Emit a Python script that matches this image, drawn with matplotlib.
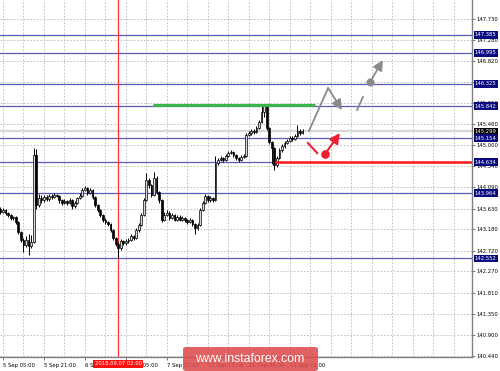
import numpy as np
import matplotlib
matplotlib.use("Agg")
import matplotlib.pyplot as plt
from matplotlib.patches import Rectangle, FancyBboxPatch
from matplotlib.transforms import blended_transform_factory

# ---------------- data ----------------
first_open = 143.620
closes = [143.555, 143.599, 143.534, 143.490, 143.426, 143.440, 143.339, 143.123, 142.950, 142.841,
          142.950, 142.820, 142.906, 144.788, 143.707, 143.858, 143.815, 143.880, 143.837, 143.902,
          143.880, 143.923, 143.902, 143.815, 143.750, 143.793, 143.750, 143.815, 143.685, 143.750,
          143.858, 143.902, 144.032, 144.075, 143.967, 144.032, 143.880, 143.707, 143.599, 143.490,
          143.382, 143.339, 143.296, 143.166, 142.993, 142.863, 142.776, 142.928, 142.885, 142.928,
          142.950, 143.036, 142.993, 143.166, 143.274, 143.490, 143.815, 144.248, 144.140, 143.923,
          144.291, 143.988, 143.815, 143.382, 143.490, 143.534, 143.426, 143.490, 143.382, 143.447,
          143.382, 143.426, 143.382, 143.339, 143.382, 143.296, 143.209, 143.274, 143.599, 143.750,
          143.902, 143.815, 143.858, 143.815, 144.615, 144.680, 144.723, 144.680, 144.767, 144.831,
          144.853, 144.788, 144.723, 144.680, 144.745, 144.767, 145.221, 145.264, 145.307, 145.286,
          145.372, 145.502, 145.718, 145.848, 145.372, 145.069, 144.940, 144.572, 144.723, 144.896,
          144.983, 145.048, 145.091, 145.156, 145.134, 145.199, 145.307, 145.264, 145.307]
highs = [143.66, 143.64, 143.62, 143.56, 143.51, 143.47, 143.46, 143.36, 143.15, 143.00,
         143.04, 143.08, 143.05, 144.94, 144.92, 143.95, 143.92, 143.93, 143.92, 143.94,
         143.95, 143.96, 143.95, 143.93, 143.84, 143.83, 143.82, 143.85, 143.83, 143.79,
         143.89, 143.96, 144.08, 144.12, 144.10, 144.07, 144.05, 143.90, 143.73, 143.62,
         143.52, 143.42, 143.37, 143.32, 143.19, 143.02, 142.90, 142.97, 142.96, 142.97,
         143.00, 143.08, 143.06, 143.20, 143.31, 143.53, 143.86, 144.40, 144.30, 144.17,
         144.42, 144.33, 144.02, 143.84, 143.56, 143.60, 143.57, 143.54, 143.52, 143.49,
         143.48, 143.46, 143.45, 143.41, 143.42, 143.40, 143.32, 143.31, 143.64, 143.79,
         143.95, 143.93, 143.90, 143.88, 144.76, 144.73, 144.77, 144.75, 144.82, 144.87,
         144.90, 144.87, 144.81, 144.75, 144.78, 144.80, 145.26, 145.31, 145.35, 145.34,
         145.42, 145.55, 145.85, 145.89, 145.87, 145.40, 145.10, 144.97, 144.77, 144.94,
         145.03, 145.09, 145.14, 145.20, 145.19, 145.24, 145.44, 145.36, 145.34]
lows = [143.52, 143.53, 143.50, 143.45, 143.39, 143.38, 143.30, 143.09, 142.90, 142.70,
        142.80, 142.62, 142.78, 142.88, 143.62, 143.66, 143.76, 143.78, 143.80, 143.80,
        143.84, 143.85, 143.87, 143.76, 143.71, 143.72, 143.70, 143.72, 143.63, 143.64,
        143.73, 143.83, 143.88, 144.00, 143.93, 143.94, 143.84, 143.67, 143.56, 143.45,
        143.34, 143.30, 143.25, 143.12, 142.95, 142.82, 142.56, 142.74, 142.84, 142.85,
        142.89, 142.92, 142.95, 142.97, 143.13, 143.25, 143.46, 143.79, 144.08, 143.88,
        143.90, 143.95, 143.76, 143.34, 143.35, 143.46, 143.39, 143.40, 143.35, 143.36,
        143.35, 143.35, 143.34, 143.30, 143.31, 143.26, 143.08, 143.17, 143.25, 143.57,
        143.72, 143.77, 143.78, 143.77, 143.79, 144.58, 144.65, 144.64, 144.65, 144.74,
        144.80, 144.75, 144.69, 144.64, 144.65, 144.72, 144.74, 145.19, 145.23, 145.25,
        145.26, 145.35, 145.48, 145.60, 145.33, 145.02, 144.60, 144.46, 144.53, 144.70,
        144.86, 144.95, 145.02, 145.06, 145.10, 145.11, 145.17, 145.22, 145.24]
first_bar = -1

ytick_values = [147.730, 147.280, 146.820, 146.370, 145.910, 145.460, 145.000, 144.540, 144.090,
                143.630, 143.180, 142.720, 142.270, 141.810, 141.350, 140.900, 140.440]
xtick_bars = [0, 16, 32, 48, 64, 80, 96, 112]
xtick_labels = ["5 Sep 05:00", "5 Sep 21:00", "6 Sep 13:00", "7 Sep 05:00", "7 Sep 21:00",
                "10 Sep 13:00", "11 Sep 05:00", "11 Sep 21:00"]

levels = [147.385, 146.995, 146.325, 145.842, 145.154, 144.634, 143.964, 142.552]
current_price = 145.299
green_level = 145.875
green_span = [58.6, 121.9]
red_level = 144.634
red_start = 106.3
vline_bar = 45
vline_label = "2018.09.07 02:00"

grey_path_x = [119.5, 127.0]
grey_path_y = [145.307, 146.237]
grey_arrow1 = [(127.0, 146.237), (132.4, 145.762)]
grey_seg_x = [138.3, 140.6]
grey_seg_y = [145.762, 146.043]
grey_dot = (143.4, 146.367)
grey_tip = (148.4, 146.843)
red_seg_x = [119.1, 122.7]
red_seg_y = [145.048, 144.830]
red_dot = (125.8, 144.810)
red_tip = (131.6, 145.264)

# ---------------- figure ----------------
W, H = 500, 371
fig = plt.figure(figsize=(W / 100, H / 100), dpi=100)
fig.patch.set_facecolor("white")
ax = fig.add_axes([0, 1 - 357 / H, 472 / W, 357 / H])
ax.set_facecolor("white")

ax.set_xlim(-1.17, 183.2)
ax.set_ylim(140.419, 148.141)

# grid
grid_kw = dict(color="#b8b8b8", lw=0.6, ls=(0, (2, 2)), zorder=0)
for v in ytick_values:
    ax.axhline(v, **grid_kw)
for b in range(0, 184, 8):
    ax.axvline(b, **grid_kw)

# levels
for lv in levels:
    ax.axhline(lv, color="#5a5ab8", lw=0.9, zorder=2)
ax.axhline(current_price, color="#d6d6d6", lw=1.6, zorder=1)

# vertical red line
ax.axvline(vline_bar, color="#ff3030", lw=0.9, zorder=2)

# candles
bars = np.arange(first_bar, first_bar + len(closes))
opens = [first_open] + closes[:-1]
bw = 0.7
for b, o, c, h, l in zip(bars, opens, closes, highs, lows):
    ax.vlines(b, l, h, color="black", lw=0.7, zorder=3)
    bottom = min(o, c)
    height = max(abs(c - o), 0.008)
    fc = "#d8d8d8" if c >= o else "black"
    ax.add_patch(Rectangle((b - bw / 2, bottom), bw, height, facecolor=fc,
                           edgecolor="black", lw=0.5, zorder=4))

# green and red lines
ax.plot(green_span, [green_level, green_level], color="#3cb44b", lw=2.2, zorder=5,
        solid_capstyle="butt")
ax.plot([red_start, 183.2], [red_level, red_level], color="#ff1a1a", lw=1.8, zorder=5,
        solid_capstyle="butt")

# grey arrows
gc = "#8a8a8a"
astyle = "-|>,head_length=0.6,head_width=0.3"
ax.plot(grey_path_x, grey_path_y, color=gc, lw=1.3, zorder=6, solid_capstyle="round")
ax.annotate("", xy=grey_arrow1[1], xytext=grey_arrow1[0],
            arrowprops=dict(arrowstyle=astyle, color=gc, lw=1.3, shrinkA=0, shrinkB=0), zorder=6)
ax.plot(grey_seg_x, grey_seg_y, color=gc, lw=1.3, zorder=6)
ax.plot([grey_dot[0]], [grey_dot[1]], "o", color=gc, ms=4.8, zorder=6)
ax.annotate("", xy=grey_tip, xytext=grey_dot,
            arrowprops=dict(arrowstyle=astyle, color=gc, lw=1.3, shrinkA=0, shrinkB=0), zorder=6)

# red arrows
rc = "#ee2030"
ax.plot(red_seg_x, red_seg_y, color=rc, lw=1.5, zorder=6)
ax.plot([red_dot[0]], [red_dot[1]], "o", color=rc, ms=5.2, zorder=6)
ax.annotate("", xy=red_tip, xytext=red_dot,
            arrowprops=dict(arrowstyle=astyle, color=rc, lw=1.5, shrinkA=0, shrinkB=0), zorder=6)

# axes styling
for s in ["top", "left"]:
    ax.spines[s].set_visible(False)
for s in ["right", "bottom"]:
    ax.spines[s].set_color("#808080")
    ax.spines[s].set_linewidth(1.0)

fs = 3.8
ax.yaxis.tick_right()
ax.set_yticks(ytick_values)
ax.set_yticklabels([f"{v:.3f}" for v in ytick_values])
ax.tick_params(axis="y", length=2, width=0.6, colors="#606060", labelsize=fs, pad=1.5,
               labelcolor="black")
ax.set_xticks(xtick_bars)
ax.set_xticklabels(xtick_labels)
ax.tick_params(axis="x", length=2.5, width=0.6, colors="#606060", labelsize=fs, pad=1.5,
               labelcolor="black")
for lab in ax.get_xticklabels():
    lab.set_ha("left")

# right-side level labels
tr = blended_transform_factory(ax.transAxes, ax.transData)
ax.text(1.006, current_price, f"{current_price:.3f}", transform=tr, fontsize=fs, color="white",
        va="center", ha="left", clip_on=False, zorder=10,
        bbox=dict(boxstyle="square,pad=0.25", fc="black", ec="none"))
for lv in levels:
    ax.text(1.006, lv, f"{lv:.3f}", transform=tr, fontsize=fs, color="white", va="center",
            ha="left", clip_on=False, zorder=11,
            bbox=dict(boxstyle="square,pad=0.25", fc="#0a0a80", ec="none"))

# date label for vertical line
trx = blended_transform_factory(ax.transData, ax.transAxes)
ax.text(vline_bar, -0.019, vline_label, transform=trx, fontsize=fs, color="white", va="center",
        ha="center", clip_on=False, zorder=11,
        bbox=dict(boxstyle="square,pad=0.25", fc="#ff1010", ec="none"))

# watermark
wm = FancyBboxPatch((183 / W, 0.0), (318 - 183) / W, (371 - 347) / H,
                    boxstyle="round,pad=0,rounding_size=0.006", transform=fig.transFigure,
                    fc="#dc4c4c", ec="none", alpha=0.88, zorder=20)
fig.add_artist(wm)
fig.text(250 / W, 1 - 359 / H, "www.instaforex.com", fontsize=8.8, color="white",
         family=["Liberation Sans", "DejaVu Sans"], ha="center", va="center", zorder=21)

fig.savefig("out.png", dpi=100)
